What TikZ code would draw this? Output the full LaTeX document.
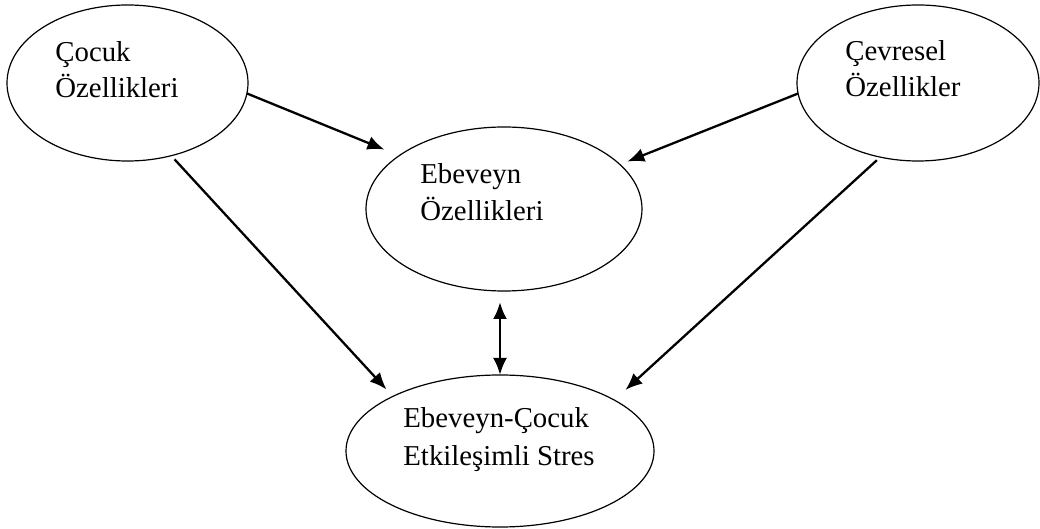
\documentclass[tikz,border=0pt]{standalone}
\usepackage{fontspec}
\setmainfont{Liberation Serif}
\usetikzlibrary{shapes.geometric,arrows.meta}
\tikzset{
  oval/.style={draw, ellipse, line width=0.6pt, inner sep=0pt, outer sep=0pt},
  lbl/.style={anchor=base west, inner sep=0pt, font=\fontsize{14.4pt}{18pt}\selectfont},
  tip/.style={Latex[length=8.5pt,width=7pt]},
  conn/.style={line width=1.15pt, -{Latex[length=8.5pt,width=7pt]}},
  bconn/.style={line width=1.4pt, {Latex[length=8.5pt,width=7pt]}-{Latex[length=8.5pt,width=7pt]}}
}
\begin{document}
\begin{tikzpicture}[x=0.5pt,y=-0.5pt]
\useasboundingbox (0,0) rectangle (1040,529);
\node[oval, minimum width=120.5pt, minimum height=78pt] (e1) at (127.5,83) {};
\node[oval, minimum width=121pt, minimum height=78pt] (e2) at (918,83) {};
\node[oval, minimum width=138pt, minimum height=82pt] (e3) at (504,209) {};
\node[oval, minimum width=154pt, minimum height=76pt] (e4) at (500,451) {};

\node[lbl] (t1a) at (55,62) {Çocuk};
\node[lbl] (t1b) at (55,98) {Özellikleri};
\node[lbl] (t2a) at (845,61) {Çevresel};
\node[lbl] (t2b) at (845,97) {Özellikler};
\node[lbl] (t3a) at (420,184) {Ebeveyn};
\node[lbl] (t3b) at (420,221) {Özellikleri};
\node[lbl] (t4a) at (403,428) {Ebeveyn-Çocuk};
\node[lbl] (t4b) at (403,466) {Etkileşimli Stres};

\draw[conn, shorten >=8pt] (e1.-5) -- (e3.153);
\draw[conn, shorten <=2.5pt, shorten >=4.7pt] (e1.-59.4) -- (e4.153.6);
\draw[conn, shorten >=4pt] (e2.-175.2) -- (e3.21.9);
\draw[conn, shorten <=2.3pt, shorten >=7.5pt] (e2.-117.7) -- (e4.24.5);
\draw[bconn, shorten >=5.5pt] (e4.north) -- (e4.north |- e3.south);
\end{tikzpicture}
\end{document}
